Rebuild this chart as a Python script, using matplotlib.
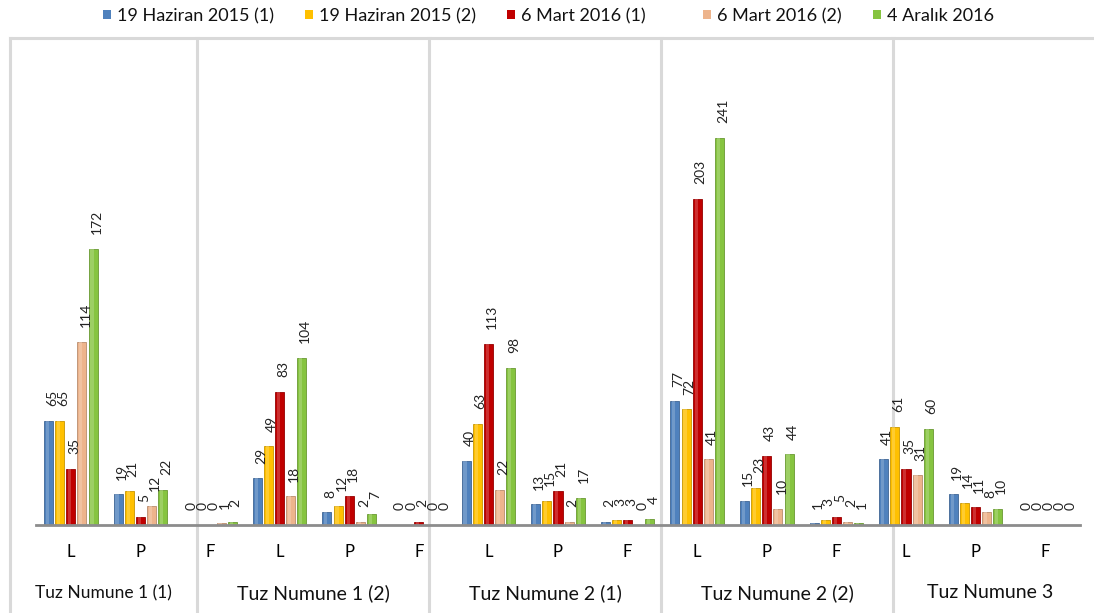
import matplotlib.pyplot as plt
from matplotlib.lines import Line2D
from matplotlib.patches import Rectangle
from matplotlib.colors import to_rgb
import numpy as np

plt.rcParams['font.family'] = ['Lato', 'DejaVu Sans']

series = ['19 Haziran 2015 (1)', '19 Haziran 2015 (2)', '6 Mart 2016 (1)',
          '6 Mart 2016 (2)', '4 Aralık 2016']
colors = ['#4F81BD', '#FFC000', '#C00000', '#EDB48C', '#86C440']

groups = ['Tuz Numune 1 (1)', 'Tuz Numune 1 (2)', 'Tuz Numune 2 (1)',
          'Tuz Numune 2 (2)', 'Tuz Numune 3']
cats = ['L', 'P', 'F']

# values per series, in order group1 L,P,F, group2 L,P,F, ...
s1 = [65, 19, 0, 29, 8, 0, 40, 13, 2, 77, 15, 1, 41, 19, 0]
s2 = [65, 21, 0, 49, 12, 0, 63, 15, 3, 72, 23, 3, 61, 14, 0]
s3 = [35, 5, 0, 83, 18, 2, 113, 21, 3, 203, 43, 5, 35, 11, 0]
s4 = [114, 12, 1, 18, 2, 0, 22, 2, 0, 41, 10, 2, 31, 8, 0]
s5 = [172, 22, 2, 104, 7, 0, 98, 17, 4, 241, 44, 1, 60, 10, 0]
data = [s1, s2, s3, s4, s5]

W, H = 1094, 613
fig = plt.figure(figsize=(W / 100, H / 100), dpi=100)


def fx(px):
    return px / W


def fy(py):
    return 1 - py / H


# group frame lines, kept behind the bars
grid = '#d9d9d9'
for px in [10, 197, 429, 661, 893]:
    fig.add_artist(Line2D([fx(px), fx(px)], [fy(38), fy(613)], color=grid,
                          lw=2.2, zorder=-1))
fig.add_artist(Line2D([fx(10), fx(1094)], [fy(38), fy(38)], color=grid,
                      lw=2.2, zorder=-1))

ax = fig.add_axes([fx(36), fy(525), fx(1044), fy(40) - fy(525)])
ax.set_xlim(0, 15)
ax.set_ylim(0, 302)

x = np.arange(15) + 0.5
step = 0.16
bw = 0.13
for i, (vals, c) in enumerate(zip(data, colors)):
    xs = x + (i - 2) * step
    dark = tuple(v * 0.78 for v in to_rgb(c))
    light = tuple(v + (1 - v) * 0.35 for v in to_rgb(c))
    ax.bar(xs, vals, width=bw, color=c, edgecolor=dark, linewidth=0.6, zorder=3)
    # bevel highlight
    ax.bar(xs - bw * 0.12, vals, width=bw * 0.35, color=light, alpha=0.55,
           linewidth=0, zorder=4)
    for xi, v in zip(xs, vals):
        ax.annotate(str(v), (xi, v), xytext=(2.5, 10.5), textcoords='offset points',
                    rotation=90, ha='center', va='bottom', fontsize=10,
                    color='#222222', zorder=5)

for s in ['top', 'right', 'left']:
    ax.spines[s].set_visible(False)
ax.spines['bottom'].set_color('#8c8c8c')
ax.spines['bottom'].set_linewidth(2)
ax.spines['bottom'].set_zorder(6)
ax.set_yticks([])
ax.set_xticks(x)
ax.set_xticklabels(cats * 5, fontsize=12)
ax.tick_params(axis='x', length=0, pad=14)
ax.patch.set_alpha(0)

bounds = [10, 197, 429, 661, 893, 1087]
for k, g in enumerate(groups):
    cx = (bounds[k] + bounds[k + 1]) / 2
    fig.text(fx(cx), fy(593), g, ha='center', va='center',
             fontsize=12.5 if k == 0 else 14, color='#111111')

# legend across the top
leg_x = [103, 305, 507, 703, 873]
for lx, name, c in zip(leg_x, series, colors):
    fig.patches.append(Rectangle((fx(lx), fy(19)), fx(8), fy(10) - fy(19),
                                 transform=fig.transFigure, facecolor=c,
                                 edgecolor='none'))
    fig.text(fx(lx + 14), fy(16), name, ha='left', va='center', fontsize=13,
             color='#111111')

fig.savefig('out.png', dpi=100)
